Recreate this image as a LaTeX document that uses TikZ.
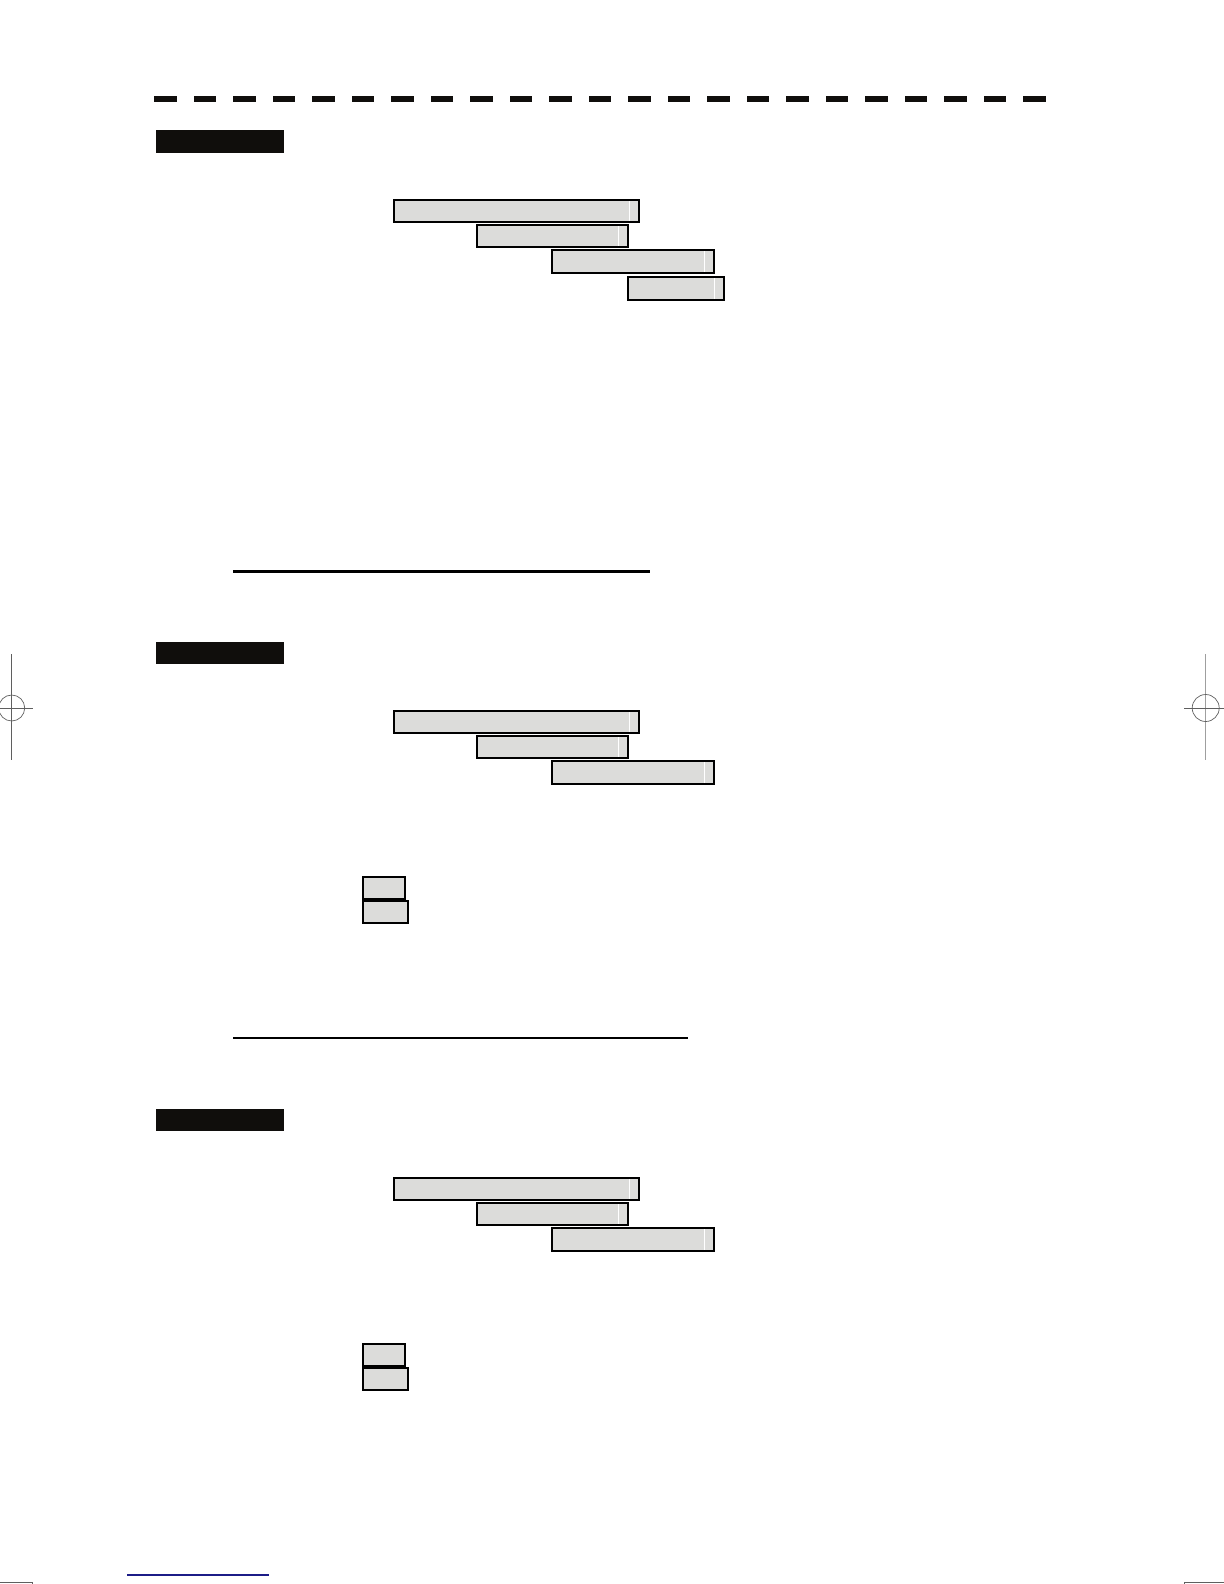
\documentclass[tikz,border=0pt]{standalone}
\usepackage{tikz}
\usetikzlibrary{calc}

\definecolor{barfill}{RGB}{220,220,218}
\definecolor{titlefill}{RGB}{16,14,12}
\definecolor{markgray}{RGB}{95,95,95}
\definecolor{linkblue}{RGB}{28,28,135}

\begin{document}
\begin{tikzpicture}[x=0.5pt,y=-0.5pt,
		bar/.style={draw=black,line width=0.65pt,fill=barfill},
		titlebar/.style={fill=titlefill},
		rule/.style={line width=1.1pt},
		cropmark/.style={draw=markgray,line width=0.35pt}]
		\useasboundingbox (0,0) rectangle (1224,1584);
		
		%dashed head line
		\foreach \i in {0,1,...,22}{
			\fill[titlefill] ({154+\i*39.5},96) rectangle +(22.5,6.3);
		}
		
		%three sections
		\foreach \s/\last in {0/1,511/0,978/0}{
			\begin{scope}[yshift={-\s*0.5pt}]
			%black title box
			\fill[titlebar] (155.5,130.5) rectangle (284,152.5);
			%menu bars
			\draw[bar] (394,200) rectangle (639,222);
			\draw[white,line width=0.5pt] (629,201) -- (629,221);
			\draw[bar] (477,225) rectangle (628,247);
			\draw[white,line width=0.5pt] (618,226) -- (618,246);
			\draw[bar] (552,250) rectangle (714,273);
			\draw[white,line width=0.5pt] (704,251) -- (704,272);
			\ifnum\last=1
				\draw[bar] (628,277) rectangle (724,300);
				\draw[white,line width=0.5pt] (714,278) -- (714,299);
			\else
				%small keys
				\draw[bar] (363,366) rectangle (405,388);
				\draw[bar] (363,390) rectangle (408,412);
			\fi
			\end{scope}
		}
		
		%underlines
		\draw[rule] (233,571.5) -- (649.5,571.5);
		\draw[rule] (233,1038) -- (688,1038);
		
		%registration marks
		\coordinate (rl) at (11.7,708);
		\coordinate (rr) at (1205.7,708);
		\draw[cropmark] (rl) ++(0,-54) -- ++(0,106);
		\draw[cropmark] (0,708) -- (32.7,708);
		\draw[cropmark] (rl) circle[radius=13];
		\draw[cropmark,draw=markgray!60] (rr) ++(0,-54) -- ++(0,106);
		\draw[cropmark] (1184,708) -- (1224,708);
		\draw[cropmark] (rr) circle[radius=13.5];
		
		%foot
		\draw[linkblue,line width=0.8pt] (127,1575) -- (269,1575);
		\draw[cropmark] (0,1582) -- (32.7,1582) -- (32.7,1584);
		\draw[cropmark] (1184,1584) -- (1184,1582) -- (1224,1582);
		
		\end{tikzpicture}
\end{document}
